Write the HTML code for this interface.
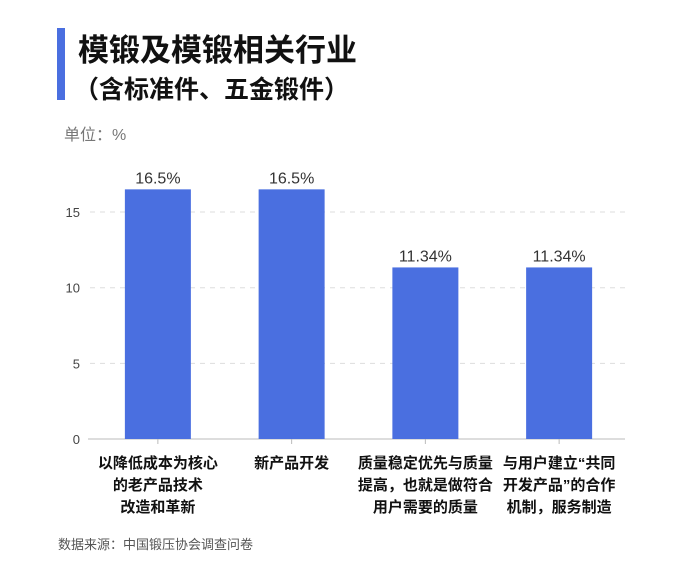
<!DOCTYPE html>
<html><head><meta charset="utf-8">
<style>
body{margin:0;background:#fff;width:690px;height:568px;overflow:hidden;font-family:"Liberation Sans","Noto Sans CJK SC",sans-serif;}
</style></head>
<body>
<svg width="690" height="568" xmlns="http://www.w3.org/2000/svg" style="font-family:'Liberation Sans','Noto Sans CJK SC',sans-serif">
<rect x="57" y="28" width="8" height="72" fill="#4a6fe0"/>
<text x="78" y="61" font-size="31" font-weight="bold" fill="#111">模锻及模锻相关行业</text>
<text x="74" y="98" font-size="25" font-weight="bold" fill="#111">（含标准件、五金锻件）</text>
<text x="64" y="140" font-size="16" fill="#777">单位：%</text>
<g id="chart"></g>
<text x="58" y="549" font-size="13" fill="#555">数据来源：中国锻压协会调查问卷</text>
</svg>
<script>
const categories=[["以降低成本为核心","的老产品技术","改造和革新"],["新产品开发"],["质量稳定优先与质量","提高，也就是做符合","用户需要的质量"],["与用户建立“共同","开发产品”的合作","机制，服务制造"]];
const values=[16.5,16.5,11.34,11.34];
const valueLabels=["16.5%","16.5%","11.34%","11.34%"];
const ticks=[0,5,10,15];
const NS="http://www.w3.org/2000/svg";
const g=document.getElementById('chart');
const x0=90,x1=625,y0=439,yPer=15.13;
const step=(x1-x0)/categories.length;
const yScale=v=>y0-v*yPer;
const xCenter=i=>x0+step*(i+0.5)+1;
function mk(t,a){const e=document.createElementNS(NS,t);for(const k in a)e.setAttribute(k,a[k]);g.appendChild(e);return e;}
ticks.forEach(t=>{
  if(t>0){const l=mk('line',{x1:x0,x2:x1,y1:yScale(t),y2:yScale(t),stroke:'#ddd','stroke-dasharray':'5,5'});
  
  }
  const tx=mk('text',{x:80,y:yScale(t)+5,'font-size':13,fill:'#444','text-anchor':'end'});tx.textContent=t;
  
  
});
const ax=mk('line',{x1:88,x2:x1,y1:y0,y2:y0,stroke:'#bbb'});


values.forEach((v,i)=>{
  const cx=xCenter(i),w=66;
  const r=mk('rect',{x:cx-w/2,y:yScale(v),width:w,height:y0-yScale(v),fill:'#4a6fe0'});
  
  
  const tk=mk('line',{x1:cx,x2:cx,y1:y0,y2:y0+5,stroke:'#bbb'});
  
  
  const vl=mk('text',{x:cx,y:yScale(v)-6,'font-size':16,fill:'#333','text-anchor':'middle'});vl.textContent=valueLabels[i];
  
  
  categories[i].forEach((ln,j)=>{
    const t=mk('text',{x:cx,y:468+j*22,'font-size':15,'font-weight':'bold',fill:'#111','text-anchor':'middle'});t.textContent=ln;
    
    
  });
});
</script>
</body></html>
